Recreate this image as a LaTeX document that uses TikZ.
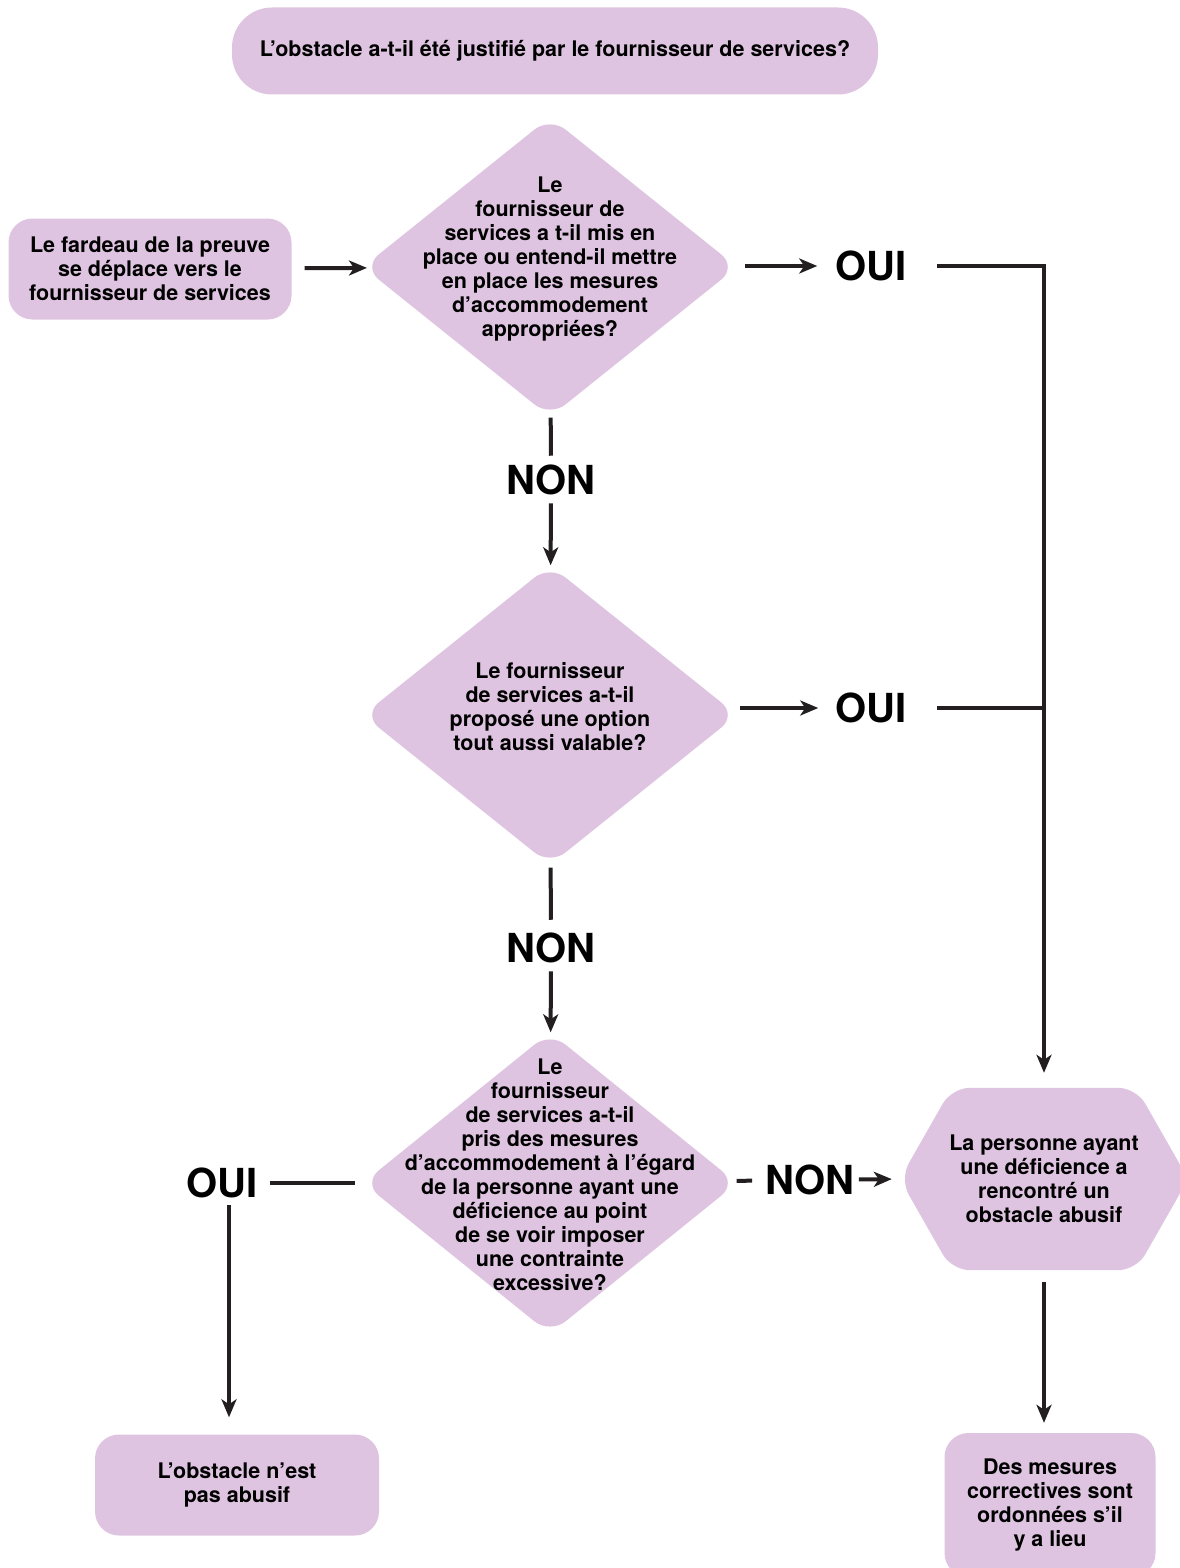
\documentclass[tikz,border=0pt]{standalone}
\usepackage{fontspec}
\setmainfont{TeX Gyre Heros}
\usetikzlibrary{shapes.geometric, arrows.meta, backgrounds}
\definecolor{lilas}{RGB}{222,196,224}
\definecolor{trait}{RGB}{35,31,32}

\begin{document}
\begin{tikzpicture}[x = 1pt, y = -1pt,
        box/.style = {rectangle, rounded corners = 24pt, fill = lilas, align = center, inner sep = 0pt, font = \fontsize{21.5}{24}\selectfont\bfseries},
        question/.style = {diamond, rounded corners = 20pt, fill = lilas, minimum width = 374pt, minimum height = #1, inner sep = 0pt},
        qtext/.style = {align = center, inner sep = 0pt, yshift = 8pt, font = \fontsize{21.5}{24}\selectfont\bfseries},
        answer/.style = {inner sep = 0pt, font = \fontsize{40}{40}\selectfont\bfseries},
        line/.style = {draw = trait, line width = 4pt},
        arrow/.style = {line, -{Stealth[length = 18pt, width = 15pt, inset = 5pt]}}]
    \useasboundingbox (0, 0) rectangle (1179, 1568);

    % boites
    \node[box, rounded corners = 40pt, minimum width = 646pt, minimum height = 87pt] (top) at (555, 51) {L’obstacle a-t-il été justifié par le fournisseur de services?};
    \node[box, minimum width = 283pt, minimum height = 101pt] (burden) at (150, 269) {Le fardeau de la preuve\\se déplace vers le\\fournisseur de services};
    \node[box, minimum width = 284pt, minimum height = 101pt] (bl) at (237, 1485) {L’obstacle n’est\\pas abusif};
    \node[box, minimum width = 211pt, minimum height = 144pt] (br) at (1050, 1505) {Des mesures\\correctives sont\\ordonnées s’il\\y a lieu};
    \node[box, fill = none, minimum width = 288pt, minimum height = 182pt] (hx) at (1044, 1179) {La personne ayant\\une déficience a\\rencontré un\\obstacle abusif};
    \begin{scope}[on background layer]
        \fill[lilas, rounded corners = 18pt] (hx.west) -- ([xshift = 52pt]hx.north west) -- ([xshift = -52pt]hx.north east) -- (hx.east)
            -- ([xshift = -52pt]hx.south east) -- ([xshift = 52pt]hx.south west) -- cycle;
    \end{scope}

    % questions
    \node[question = 300pt, label = {[qtext]center:{Le\\fournisseur de\\services a t-il mis en\\place ou entend-il mettre\\en place les mesures\\d’accommodement\\appropriées?}}] (q1) at (550, 267) {};
    \node[question = 300pt, label = {[qtext]center:{Le fournisseur\\de services a-t-il\\proposé une option\\tout aussi valable?}}] (q2) at (550, 715) {};
    \node[question = 302pt, label = {[qtext]center:{Le\\fournisseur\\de services a-t-il\\pris des mesures\\d’accommodement à l’égard\\de la personne ayant une\\déficience au point\\de se voir imposer\\une contrainte\\excessive?}}] (q3) at (550, 1183) {};

    % reponses
    \node[answer] (oui1) at (871, 266) {OUI};
    \node[answer] (oui2) at (871, 708) {OUI};
    \node[answer] (oui3) at (222, 1183) {OUI};
    \node[answer] (non1) at (551, 480) {NON};
    \node[answer] (non2) at (551, 948) {NON};
    \node[answer] (non3) at (810, 1180) {NON};

    % fleches
    \draw[arrow, shorten < = 13pt, shorten > = -3pt] (burden) -- (q1);
    \draw[arrow, shorten < = 8pt, shorten > = 18pt] (q1.east |- oui1) -- (oui1);
    \draw[arrow] ([xshift = 30pt]oui1.east) -| ([yshift = 15pt]hx.north);
    \draw[arrow, shorten < = 3pt, shorten > = 17pt] (q2.east |- oui2) -- (oui2);
    \draw[line] ([xshift = 30pt]oui2.east) -- (oui2.east -| hx.north);
    \draw[line, shorten < = 1pt, shorten > = 9pt] (q1) -- (non1);
    \draw[arrow, shorten < = 8pt] (non1) -- (q2);
    \draw[line, shorten < = 3pt, shorten > = 13pt] (q2) -- (non2);
    \draw[arrow, shorten < = 8pt] (non2) -- (q3);
    \draw[line, shorten < = 8pt, shorten > = 12pt] (q3) -- (oui3);
    \draw[arrow, shorten > = 17pt] ([xshift = 7pt, yshift = -7pt]oui3.south) -- ([xshift = 7pt]oui3.south |- bl.north);
    \draw[line, shorten < = 2pt, shorten > = 13pt] (q3) -- (non3);
    \draw[arrow, shorten < = 4pt, shorten > = 8pt] (non3) -- (hx.west);
    \draw[arrow, shorten < = 12pt, shorten > = 10pt] (hx.south) -- (hx.south |- br.north);
\end{tikzpicture}
\end{document}
